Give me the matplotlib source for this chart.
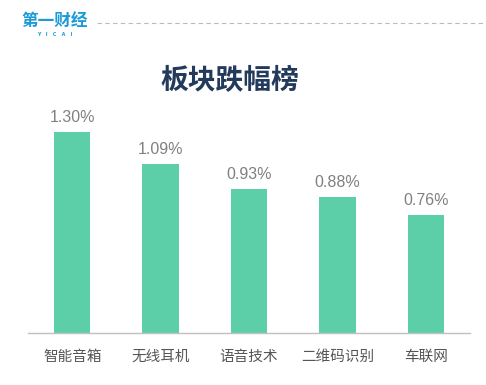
import matplotlib.pyplot as plt
from matplotlib.lines import Line2D

plt.rcParams['font.family'] = ['Noto Sans CJK SC', 'DejaVu Sans']

# 数据
CATEGORIES = ["智能音箱", "无线耳机", "语音技术", "二维码识别", "车联网"]
VALUES = [1.30, 1.09, 0.93, 0.88, 0.76]
LABELS = ["1.30%", "1.09%", "0.93%", "0.88%", "0.76%"]

fig = plt.figure(figsize=(4.86, 3.85), dpi=100)

# 坐标区: x 28-470 px, y 底部 333 px
ax = fig.add_axes([28 / 486, 1 - 333 / 385, 442 / 486, 233 / 385])
x = range(len(CATEGORIES))
ax.bar(x, VALUES, width=0.41, color='#5dcfa8', zorder=2)
ax.set_xlim(-0.5, len(CATEGORIES) - 0.5)
ax.set_ylim(0, 233 / 155)

for i, (v, lab) in enumerate(zip(VALUES, LABELS)):
    ax.annotate(lab, (i, v), xytext=(0, 5), textcoords='offset points',
                ha='center', va='bottom', fontsize=11.5, color='#808080',
                family=['Liberation Sans'])

ax.set_xticks(list(x))
ax.set_xticklabels(CATEGORIES, fontsize=10.5, color='#555555')
ax.tick_params(axis='x', length=0, pad=12)
ax.set_yticks([])
for side in ['top', 'right', 'left']:
    ax.spines[side].set_visible(False)
ax.spines['bottom'].set_color('#c0c0c0')
ax.spines['bottom'].set_linewidth(1)

# 标题
fig.text(230 / 486, 1 - 81 / 385, "板块跌幅榜", ha='center', va='center',
         fontsize=20, fontweight='bold', color='#233a5c')

# 标志与虚线
fig.text(21 / 486, 1 - 21 / 385, "第一财经", ha='left', va='center',
         fontsize=12, fontweight='bold', color='#1a9ad6')
fig.text(55 / 486, 1 - 34 / 385, "Y   I   C   A   I", ha='center', va='center',
         fontsize=3.5, fontweight='bold', color='#1a9ad6', family=['DejaVu Sans'])
fig.add_artist(Line2D([97 / 486, 1.0], [1 - 23 / 385, 1 - 23 / 385],
                      transform=fig.transFigure, color='#bbbbbb',
                      linewidth=0.8, linestyle=(0, (4, 3))))

fig.savefig('out.png', dpi=100)
